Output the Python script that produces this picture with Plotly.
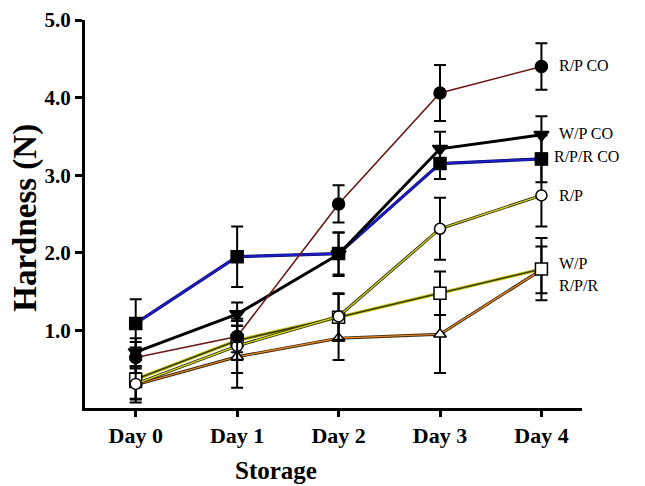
import plotly.graph_objects as go

days = ["Day 0", "Day 1", "Day 2", "Day 3", "Day 4"]
x_pos = [0, 1, 2, 3, 4]

rp_co = [0.65, 0.92, 2.63, 4.06, 4.40]
rp_co_err = [0.20, 0.20, 0.24, 0.36, 0.30]
wp_co = [0.72, 1.21, 1.98, 3.34, 3.52]
wp_co_err = [0.18, 0.15, 0.28, 0.22, 0.24]
rpr_co = [1.09, 1.95, 1.99, 3.15, 3.21]
rpr_co_err = [0.31, 0.39, 0.27, 0.20, 0.30]
rp = [0.31, 0.80, 1.18, 2.31, 2.74]
rp_err = [0.20, 0.35, 0.30, 0.40, 0.40]
wp = [0.37, 0.87, 1.17, 1.48, 1.79]
wp_err = [0.25, 0.25, 0.30, 0.28, 0.40]
rpr = [0.30, 0.66, 0.90, 0.95, 1.78]
rpr_err = [0.23, 0.40, 0.28, 0.50, 0.30]

y_ticks = [1.0, 2.0, 3.0, 4.0, 5.0]

fig = go.Figure()

def add_series(y, err, color, width, symbol, mfill, msize, under=None, under_w=None):
    if under is not None:
        fig.add_trace(go.Scatter(x=x_pos, y=y, mode="lines",
                                 line=dict(color=under, width=under_w),
                                 showlegend=False, hoverinfo="skip"))
    fig.add_trace(go.Scatter(
        x=x_pos, y=y, mode="lines+markers",
        line=dict(color=color, width=width),
        marker=dict(symbol=symbol, size=msize, color=mfill,
                    line=dict(color="black", width=1.5)),
        error_y=dict(type="data", array=err, visible=True,
                     color="black", thickness=2, width=6),
        showlegend=False))

add_series(rpr, rpr_err, "#f08a24", 1.2, "triangle-up", "white", 11,
           under="#3a2a10", under_w=3)
add_series(wp, wp_err, "#3a3a08", 1.5, "square", "white", 12,
           under="#c8c820", under_w=3.5)
add_series(rp, rp_err, "#d8d820", 1.3, "circle", "white", 11,
           under="#2a2a08", under_w=3)
add_series(rpr_co, rpr_co_err, "#1a1ad0", 2, "square", "black", 12,
           under="#101050", under_w=3.2)
add_series(wp_co, wp_co_err, "black", 3, "triangle-down", "black", 13)
add_series(rp_co, rp_co_err, "#6a1818", 1.6, "circle", "black", 12)

labels = [("R/P CO", 4.15, 4.41), ("W/P CO", 4.15, 3.54), ("R/P/R CO", 4.10, 3.24),
          ("R/P", 4.15, 2.74), ("W/P", 4.15, 1.86), ("R/P/R", 4.15, 1.58)]
for txt, lx, ly in labels:
    fig.add_annotation(x=lx, y=ly, xref="x", yref="y", text=txt, showarrow=False,
                       xanchor="left", yanchor="middle",
                       font=dict(family="Liberation Serif", size=16, color="black"))

fig.add_annotation(x=0.384, y=-0.16, xref="paper", yref="paper", text="<b>Storage</b>",
                   showarrow=False, xanchor="center", yanchor="middle",
                   font=dict(family="Liberation Serif", size=25, color="black"))
fig.add_annotation(x=-0.119, y=0.49, xref="paper", yref="paper", text="<b>Hardness (N)</b>",
                   showarrow=False, xanchor="center", yanchor="middle", textangle=-90,
                   font=dict(family="Liberation Serif", size=33, color="black"))

fig.update_layout(
    width=637, height=478,
    margin=dict(l=77, r=63, t=12, b=78, autoexpand=False),
    paper_bgcolor="white", plot_bgcolor="white",
    font=dict(family="Liberation Serif", color="black"),
)
fig.update_xaxes(
    range=[-0.5, 4.4], tickvals=x_pos, ticktext=days, automargin=False,
    showline=True, linecolor="black", linewidth=3,
    ticks="outside", ticklen=6, tickwidth=3, tickcolor="black",
    showgrid=False, zeroline=False, ticklabeloverflow="allow",
    tickfont=dict(family="Liberation Serif", size=22, color="black", weight="bold"),
)
fig.update_yaxes(
    range=[0, 5.0], tickvals=y_ticks, ticktext=["%.1f" % v for v in y_ticks],
    automargin=False, ticklabeloverflow="allow",
    showline=True, linecolor="black", linewidth=3,
    ticks="outside", ticklen=7, tickwidth=3, tickcolor="black",
    showgrid=False, zeroline=False,
    tickfont=dict(family="Liberation Serif", size=21, color="black", weight="bold"),
)
fig.update_traces(cliponaxis=False)

fig.write_html("out.html")
